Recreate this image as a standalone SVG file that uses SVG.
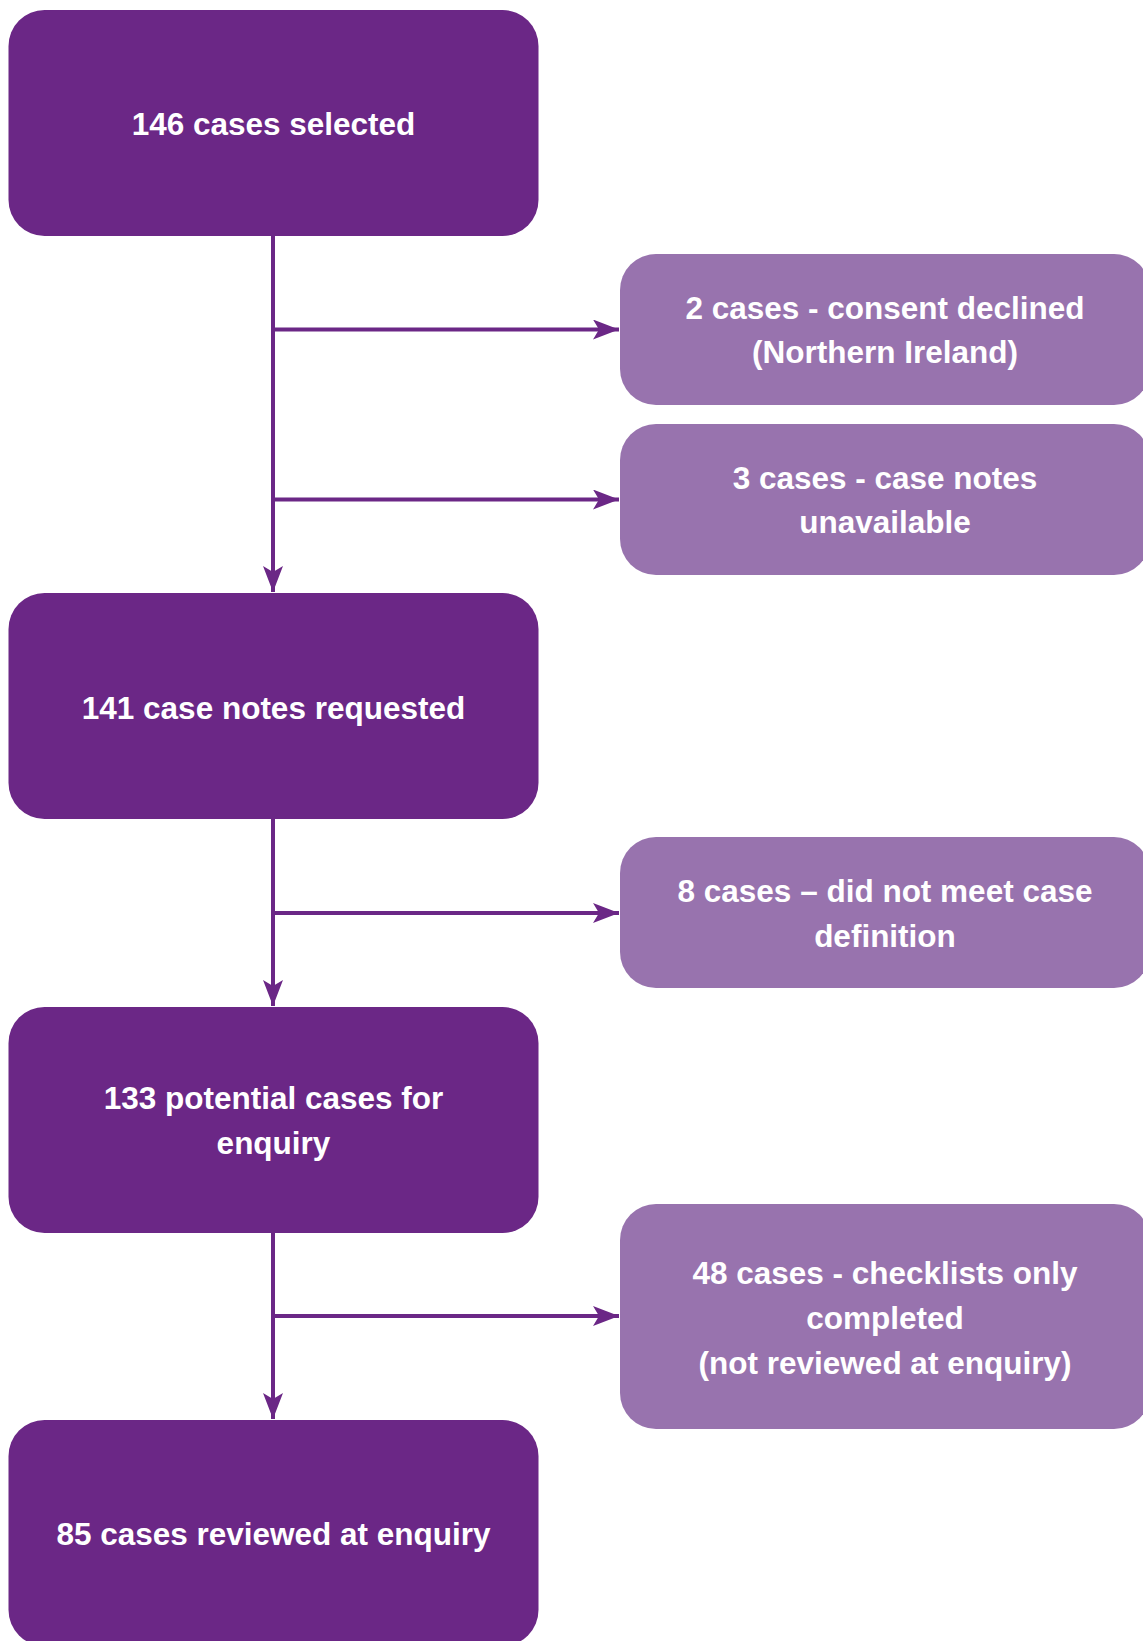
<svg xmlns="http://www.w3.org/2000/svg" width="1143" height="1641" viewBox="0 0 1143 1641">
<defs>
<style>
.main{fill:#6B2786;}
.side{fill:#9873AE;}
.t{font-family:"Liberation Sans",Arial,sans-serif;font-weight:bold;font-size:31.5px;fill:#FFFFFF;text-anchor:middle;}
.ln{stroke:#6B2786;stroke-width:4;fill:none;}
</style>
<marker id="ah" viewBox="0 0 26 20" refX="26" refY="10" markerWidth="26" markerHeight="20" markerUnits="userSpaceOnUse" orient="auto">
<path d="M0,0 L26,10 L0,20 L6,10 Z" fill="#6B2786"/>
</marker>
</defs>
<rect width="1143" height="1641" fill="#FFFFFF"/>
<g id="connectors">
<line class="ln" x1="273" y1="235" x2="273" y2="592" marker-end="url(#ah)"/>
<line class="ln" x1="273" y1="329.5" x2="619" y2="329.5" marker-end="url(#ah)"/>
<line class="ln" x1="273" y1="499.5" x2="619" y2="499.5" marker-end="url(#ah)"/>
<line class="ln" x1="273" y1="818" x2="273" y2="1006" marker-end="url(#ah)"/>
<line class="ln" x1="273" y1="913" x2="619" y2="913" marker-end="url(#ah)"/>
<line class="ln" x1="273" y1="1232" x2="273" y2="1419" marker-end="url(#ah)"/>
<line class="ln" x1="273" y1="1316" x2="619" y2="1316" marker-end="url(#ah)"/>
</g>
<g id="n1">
<rect class="main" x="8.5" y="10" width="530" height="226" rx="36" ry="36"/>
<text class="t" x="273.5" y="134.5">146 cases selected</text>
</g>
<g id="n2">
<rect class="main" x="8.5" y="593" width="530" height="226" rx="36" ry="36"/>
<text class="t" x="273.5" y="718.5">141 case notes requested</text>
</g>
<g id="n3">
<rect class="main" x="8.5" y="1007" width="530" height="226" rx="36" ry="36"/>
<text class="t" x="273.5" y="1109">133 potential cases for</text>
<text class="t" x="273.5" y="1154">enquiry</text>
</g>
<g id="n4">
<rect class="main" x="8.5" y="1420" width="530" height="226" rx="36" ry="36"/>
<text class="t" x="273.5" y="1545">85 cases reviewed at enquiry</text>
</g>
<g id="s1">
<rect class="side" x="620" y="254" width="530" height="151" rx="36" ry="36"/>
<text class="t" x="885" y="318.5">2 cases - consent declined</text>
<text class="t" x="885" y="363">(Northern Ireland)</text>
</g>
<g id="s2">
<rect class="side" x="620" y="424" width="530" height="151" rx="36" ry="36"/>
<text class="t" x="885" y="488.5">3 cases - case notes</text>
<text class="t" x="885" y="533">unavailable</text>
</g>
<g id="s3">
<rect class="side" x="620" y="837" width="530" height="151" rx="36" ry="36"/>
<text class="t" x="885" y="902">8 cases – did not meet case</text>
<text class="t" x="885" y="947">definition</text>
</g>
<g id="s4">
<rect class="side" x="620" y="1204" width="530" height="225" rx="36" ry="36"/>
<text class="t" x="885" y="1284">48 cases - checklists only</text>
<text class="t" x="885" y="1329">completed</text>
<text class="t" x="885" y="1374">(not reviewed at enquiry)</text>
</g>
</svg>
